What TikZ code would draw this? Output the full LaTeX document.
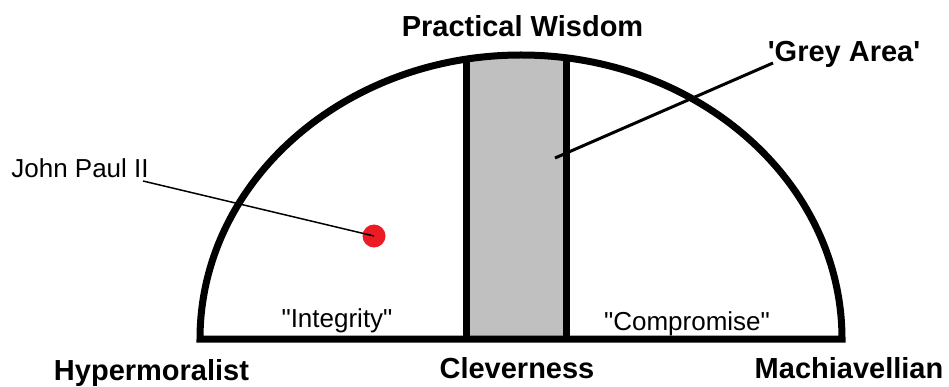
\documentclass[tikz,border=0pt]{standalone}
\usepackage{fontspec}
\setmainfont{Liberation Sans}[Ligatures=TeXOff]
\begin{document}
\begin{tikzpicture}[x=1pt,y=-1pt,
  boldlabel/.style={font=\fontsize{29}{34}\selectfont\bfseries, inner sep=0pt, anchor=base},
  plainlabel/.style={font=\fontsize{26}{30}\selectfont, inner sep=0pt, anchor=base},
  thickline/.style={line width=7pt, line cap=butt},
  leader/.style={line width=1.5pt},
  greyleader/.style={line width=3pt}]
\useasboundingbox (0,0) rectangle (949,387);
\fill[white] (0,0) rectangle (949,387);
% grey area and its borders, clipped to the dome
\begin{scope}
  \clip (200,339) arc[start angle=180, end angle=0, x radius=321pt, y radius=284pt] -- cycle;
  \fill[fill={rgb,255:red,192;green,192;blue,192}] (466.5,0) rectangle (566.5,339);
  \draw[thickline] (466.5,0) -- (466.5,339);
  \draw[thickline] (566.5,0) -- (566.5,339);
\end{scope}
% dome
\draw[thickline, line join=miter] (200,339) arc[start angle=180, end angle=0, x radius=321pt, y radius=284pt] -- cycle;
% labels
\node[boldlabel] (pw) at (522.5,37) {Practical Wisdom};
\node[boldlabel] (ga) at (844,62) {'Grey Area'};
\node[plainlabel] (jp) at (80,178) {John Paul II};
\node[plainlabel] (integ) at (337,327) {"Integrity"};
\node[plainlabel] (comp) at (687,330) {"Compromise"};
\node[boldlabel] (hyper) at (151.5,380) {Hypermoralist};
\node[boldlabel] (clev) at (517,378) {Cleverness};
\node[boldlabel] (mach) at (849,378) {Machiavellian};
% John Paul II marker
\node[circle, fill={rgb,255:red,237;green,28;blue,36}, minimum size=23pt, inner sep=0pt] (dot) at (374,236) {};
\coordinate (jpend) at (143,181);
\draw[leader] (jpend) -- (dot.center);
% grey area leader
\coordinate (gastart) at (555,158);
\coordinate (gaend) at (773,63);
\draw[greyleader] (gastart) -- (gaend);
\end{tikzpicture}
\end{document}
